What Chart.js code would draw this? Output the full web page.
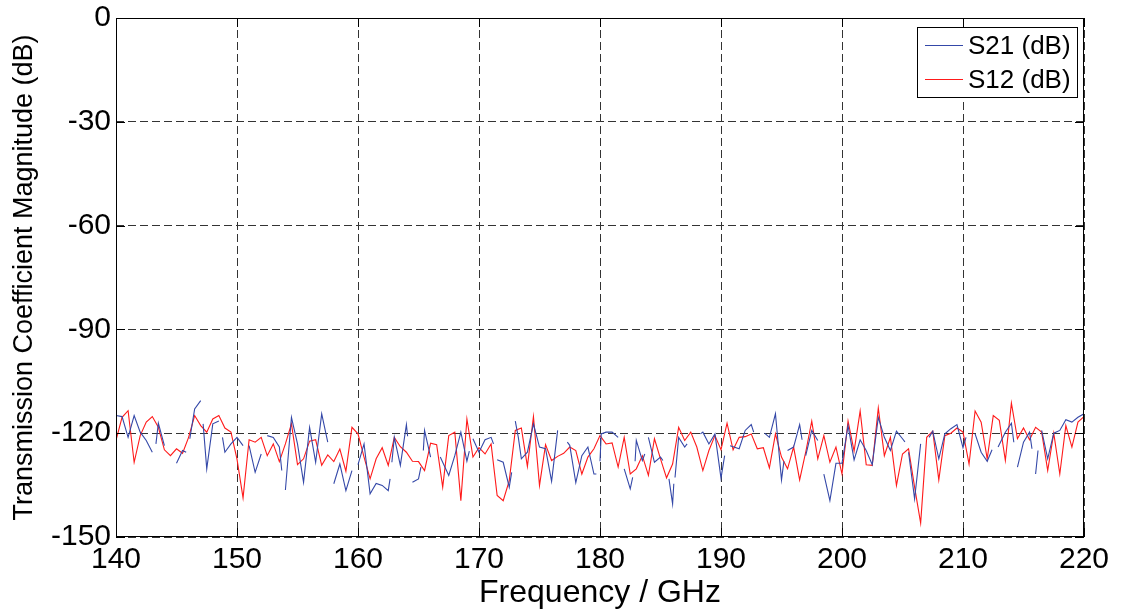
<!DOCTYPE html>
<html>
<head>
<meta charset="utf-8">
<script src="https://cdn.jsdelivr.net/npm/chart.js@4.4.1/dist/chart.umd.min.js"></script>
<style>
  html, body { margin: 0; padding: 0; background: #fff; }
  #wrap { width: 1122px; height: 613px; }
</style>
</head>
<body>
<div id="wrap"><canvas id="chart" width="1122" height="613"></canvas></div>
<script>
// axis ticks
const xTicks = [140, 150, 160, 170, 180, 190, 200, 210, 220];
const yTicks = [0, -30, -60, -90, -120, -150];

// S12 sampled every 0.5 GHz from 140 to 220
const s12Start = 140;
const s12Step = 0.5;
const s12Db = [
  -122.1,-115.4,-113.5,-128.4,-120.7,-116.8,-115.2,-118.3,-124.8,-126.5,-124.5,-125.8,-121.2,-114.9,-117.8,-119.7,-115.9,-114.9,-118.5,-119.7,
  -127.5,-138.7,-121.9,-122.6,-121.2,-126.5,-123.1,-128.2,-123.1,-117.3,-129.1,-127.4,-122.3,-121.9,-129.3,-126.3,-128.2,-124.6,-131.0,-118.3,
  -120.2,-126.9,-133.2,-127.4,-124.2,-129.3,-121.2,-123.9,-125.5,-128.1,-128.2,-130.8,-122.9,-123.3,-135.6,-120.7,-119.7,-139.5,-115.9,-126.9,
  -124.2,-126.0,-123.1,-138.0,-139.5,-133.7,-119.2,-118.5,-129.6,-115.2,-135.1,-123.3,-127.9,-126.7,-125.8,-124.0,-125.0,-131.8,-126.9,-124.5,
  -120.7,-123.1,-122.8,-129.8,-121.2,-131.8,-130.3,-126.5,-132.2,-121.6,-127.4,-132.9,-128.9,-118.3,-122.1,-119.7,-124.0,-130.8,-125.0,-120.7,
  -124.8,-117.1,-124.8,-121.2,-121.0,-120.2,-124.5,-124.2,-130.0,-120.2,-126.9,-130.3,-124.0,-133.5,-125.5,-116.5,-127.4,-120.7,-128.4,-124.0,
  -131.8,-116.5,-125.2,-113.6,-129.1,-129.3,-112.7,-126.5,-121.2,-135.1,-126.0,-124.5,-135.6,-146.0,-121.2,-119.4,-133.5,-120.7,-120.0,-118.5,
  -119.7,-128.9,-113.6,-116.8,-127.4,-114.9,-116.3,-127.9,-111.3,-121.6,-118.5,-121.9,-118.3,-119.7,-130.8,-120.0,-131.8,-117.8,-124.0,-116.8,
  -115.2
];

// S21 has dropouts (null = gap in the trace)
const s21Freq = [
  140,140.5,141,141.5,142,142.5,143,143.2,143.3,143.5,144,144.3,145,145.5,145.8,145.9,146.1,146.5,147,147.1,147.2,147.5,148,148.5,148.7,148.8,149,149.5,
  150,150.5,150.7,151,151.5,152,152.2,152.5,153,153.5,153.7,153.8,154,154.5,155,155.5,156,156.5,157,157.5,157.7,158,158.5,159,159.5,159.8,
  160,160.5,161,161.5,162,162.5,162.65,162.7,162.8,163,163.5,164,164.1,164.2,164.5,165,165.2,165.3,165.4,165.5,166,166.2,166.8,167.5,168,168.5,169,169.2,169.3,169.5,
  170,170.5,171,171.2,171.3,171.5,172,172.5,172.7,172.8,173,173.25,173.5,174,174.5,175,175.5,176,176.5,176.7,177.3,177.5,178,178.5,179,179.5,179.7,179.8,
  180,180.1,180.5,181,181.5,181.7,182,182.5,182.7,182.8,182.9,183,183.5,183.7,183.8,184,184.5,185,185.2,185.3,185.7,186,186.1,186.15,186.2,186.5,187,187.2,187.3,188.3,188.5,189,189.5,
  190,190.3,190.4,190.75,191,191.5,192,192.5,192.7,192.8,193.6,194,194.5,195,195.2,195.3,195.5,196,196.5,196.7,196.8,197,197.5,198,198.2,198.5,199,199.5,
  200,200.5,201,201.5,202,202.5,203,203.5,204,204.5,205,205.2,205.3,205.5,206,206.5,206.6,207.2,207.5,208,208.5,209,209.5,
  210,210.25,210.4,211,211.5,212,212.4,212.5,212.9,213.5,214,214.2,214.3,214.5,215,215.5,215.7,215.8,216,216.2,216.3,216.5,217,217.5,218,218.5,219,219.5,220
];
const s21Db = [
  -114.9,-115.2,-121.2,-114.9,-119.7,-122.1,-125.5,null,-123.1,-117.1,-123.6,null,-128.7,-125.0,-125.5,null,-121.6,-113.0,-110.6,null,-117.3,-130.3,-117.3,-116.5,null,-121.2,-125.5,-123.1,
  -121.2,-123.6,null,-123.6,-131.3,-126.0,null,-120.7,-121.2,-124.0,-130.8,null,-136.4,-115.4,-123.1,-134.2,-118.3,-128.4,-114.4,-122.6,null,-134.6,-128.9,-136.6,-130.8,null,
  -129.1,-123.1,-137.5,-134.5,-135.1,-136.6,-133.2,null,-128.4,-121.2,-129.3,-117.5,-120.9,null,-134.2,-133.2,-129.8,null,-125.0,-119.2,-126.9,null,-126.9,-132.2,-126.5,-119.7,-128.1,-125.2,null,-121.6,
  -125.5,-121.9,-121.2,-123.1,null,-127.7,-128.4,-135.6,-131.3,null,-116.5,-121.2,-127.4,-125.5,-117.3,-124.0,-124.5,-133.9,-119.2,null,-122.6,-123.5,-134.3,-126.5,-124.0,-131.8,-131.8,null,
  -128.1,-120.2,-119.7,-119.7,-121.2,null,-130.3,-136.1,-132.8,null,-128.1,-122.1,-127.9,-126.0,null,-121.2,-128.4,-126.9,-127.9,null,-133.2,-140.4,-134.6,null,-132.8,-121.2,-124.0,-123.1,null,-120.2,-119.7,-123.1,-120.2,
  -133.0,-126.5,null,-123.6,-123.9,-124.5,-119.2,-117.5,-119.7,null,-120.0,-121.2,-114.4,-133.5,-128.1,null,-125.0,-124.0,-117.5,-121.9,null,-126.5,-119.2,-122.1,null,-131.8,-139.5,-128.7,
  -128.7,-117.8,-127.7,-121.9,-125.0,-129.1,-115.4,-121.2,-125.0,-119.4,-121.6,-122.5,null,-125.5,-139.0,-123.1,null,-121.2,-119.4,-127.4,-120.2,-118.7,-117.5,
  -124.2,-121.2,null,-120.2,-125.5,-128.1,-124.8,null,-124.0,-119.7,-117.1,-122.6,null,-129.8,-122.6,-119.7,-124.5,null,-131.8,-125.0,null,-119.2,-127.4,-120.0,-119.2,-116.1,-116.8,-115.4,-114.4
];

const FONT = "'Liberation Sans', Arial, Helvetica, sans-serif";
const BLUE = '#3448a8';
const RED = '#ff1a1a';

const s21Points = s21Freq.map((f, i) => ({ x: f, y: s21Db[i] }));
const s12Points = s12Db.map((v, i) => ({ x: s12Start + i * s12Step, y: v }));

// box, inward ticks and legend drawn like matlab
const matlabBox = {
  id: 'matlabBox',
  afterDraw(chart) {
    const { ctx, chartArea: a, scales } = chart;
    ctx.save();
    ctx.strokeStyle = '#000';
    ctx.lineWidth = 1;
    ctx.setLineDash([]);
    ctx.strokeRect(a.left + 0.5, a.top + 0.5, a.right - a.left - 1, a.bottom - a.top - 1);
    const tl = 9;
    ctx.beginPath();
    xTicks.forEach(t => {
      const x = Math.round(scales.x.getPixelForValue(t)) + 0.5;
      ctx.moveTo(x, a.bottom); ctx.lineTo(x, a.bottom - tl);
      ctx.moveTo(x, a.top); ctx.lineTo(x, a.top + tl);
    });
    yTicks.forEach(t => {
      const y = Math.round(scales.y.getPixelForValue(t)) + 0.5;
      ctx.moveTo(a.left, y); ctx.lineTo(a.left + tl, y);
      ctx.moveTo(a.right, y); ctx.lineTo(a.right - tl, y);
    });
    ctx.stroke();

    // legend
    const bx = 917, by = 27, bw = 160, bh = 70;
    ctx.fillStyle = '#fff';
    ctx.fillRect(bx, by, bw, bh);
    ctx.strokeStyle = '#000';
    ctx.strokeRect(bx + 0.5, by + 0.5, bw, bh);
    ctx.font = '26px ' + FONT;
    ctx.textBaseline = 'middle';
    const colors = [BLUE, RED];
    chart.data.datasets.forEach((ds, i) => {
      const y = Math.round(by + 18 + i * 34) + 0.5;
      ctx.beginPath();
      ctx.strokeStyle = colors[i];
      ctx.moveTo(bx + 8, y); ctx.lineTo(bx + 46, y);
      ctx.stroke();
      ctx.fillStyle = '#000';
      ctx.fillText(ds.label, bx + 51, y + 1);
    });
    ctx.restore();
  }
};

new Chart(document.getElementById('chart'), {
  type: 'line',
  data: {
    datasets: [
      { label: 'S21 (dB)', data: s21Points, borderColor: BLUE, borderWidth: 1.1, pointRadius: 0, spanGaps: false },
      { label: 'S12 (dB)', data: s12Points, borderColor: RED, borderWidth: 1.1, pointRadius: 0, spanGaps: false }
    ]
  },
  options: {
    responsive: false,
    animation: false,
    layout: { padding: { top: 18, right: 38, left: 0, bottom: 0 } },
    plugins: { legend: { display: false }, tooltip: { enabled: false } },
    elements: { line: { tension: 0 } },
    scales: {
      x: {
        type: 'linear', min: 140, max: 220,
        afterBuildTicks: s => { s.ticks = xTicks.map(v => ({ value: v })); },
        afterFit: s => { s.height = 76; s.paddingLeft = 0; s.paddingRight = 0; },
        grid: { color: '#333', drawTicks: false, lineWidth: 1 },
        border: { display: false, dash: [8, 4] },
        ticks: { color: '#000', font: { family: FONT, size: 30 }, padding: 5, maxRotation: 0, autoSkip: false },
        title: { display: true, text: 'Frequency / GHz', color: '#000', font: { family: FONT, size: 32 }, padding: { top: 0, bottom: 1 } }
      },
      y: {
        min: -150, max: 0,
        afterBuildTicks: s => { s.ticks = yTicks.map(v => ({ value: v })); },
        afterFit: s => { s.width = 116; s.paddingTop = 0; s.paddingBottom = 0; },
        grid: { color: '#333', drawTicks: false, lineWidth: 1 },
        border: { display: false, dash: [8, 4] },
        ticks: { color: '#000', font: { family: FONT, size: 30 }, padding: 5 },
        title: { display: true, text: 'Transmission Coefficient Magnitude (dB)', color: '#000', font: { family: FONT, size: 27 }, padding: { top: 8, bottom: 0 } }
      }
    }
  },
  plugins: [matlabBox]
});
</script>
</body>
</html>
